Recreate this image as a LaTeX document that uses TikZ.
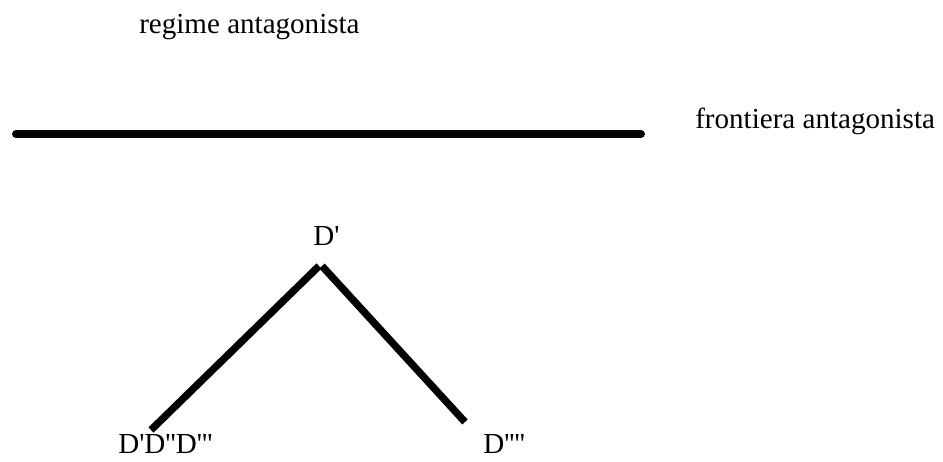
\documentclass[tikz,border=0pt]{standalone}
\usepackage{fontspec}
\usepackage{tikz}
\usetikzlibrary{positioning,calc}
\newfontfamily\labelfont{Liberation Serif}

\begin{document}
\begin{tikzpicture}[
    x=0.75pt, y=-0.75pt,
    font=\labelfont\fontsize{21.8}{26}\selectfont,
    tag/.style={inner sep=0pt, anchor=base west},
    border/.style={line width=6pt, line cap=round},
    branch/.style={line width=5.5pt, line cap=butt}
]
\useasboundingbox (0,0) rectangle (943,461);

% regime and its frontier
\node[tag] (regime) at (139,33) {regime antagonista};
\coordinate (frontL) at (16,134);
\coordinate (frontR) at (641,134);
\draw[border] (frontL) -- (frontR);
\node[tag] (frontiera) at (695,128) {frontiera antagonista};

% branching below the frontier
\node[tag] (dtop) at (313,245) {D'};
\node[tag] (dleft) at (118,453) {D'D''D'''};
\node[tag] (dright) at (483,453) {D''''};
\coordinate (apexL) at (319,266);
\coordinate (apexR) at (322,266);
\coordinate (endL) at (151,430);
\coordinate (endR) at (465,422);
\draw[branch] (apexL) -- (endL);
\draw[branch] (apexR) -- (endR);
\end{tikzpicture}
\end{document}
